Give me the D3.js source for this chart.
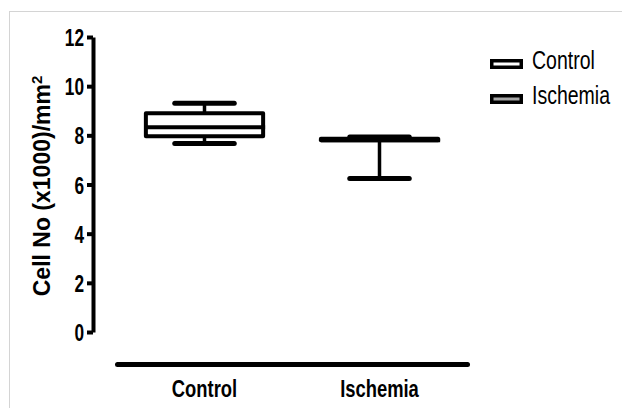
<!DOCTYPE html>
<html>
<head>
<meta charset="utf-8">
<script src="https://cdn.jsdelivr.net/npm/d3@7"></script>
<style>
  html, body { margin: 0; padding: 0; background: #fff; }
  svg { display: block; font-family: "Liberation Sans", Arial, sans-serif; }
</style>
</head>
<body>
<svg id="chart" width="622" height="408"></svg>
<script>
// data
let groups = ["Control", "Ischemia"]
let minVals = [7.67, 6.24]
let q1Vals = [7.96, 7.80]
let medianVals = [8.33, 7.80]
let q3Vals = [8.90, 7.86]
let maxVals = [9.31, 7.93]
let yTicks = [0, 2, 4, 6, 8, 10, 12]
let boxFills = ["#ffffff", "#a6a6a6"]

let svg = d3.select("#chart")

// light frame around the figure
svg.append("rect")
    .attr("x", 9.5).attr("y", 11.5)
    .attr("width", 640).attr("height", 420)
    .attr("fill", "none")
    .attr("stroke", "#d4d4d4")
    .attr("stroke-width", 1)

// scales
let yScale = d3.scaleLinear().domain([0, 12]).range([332, 37])
let xScale = d3.scaleBand().domain(groups).range([117, 467])
let boxW = xScale.bandwidth() * 0.67
let capW = xScale.bandwidth() * 0.34

// y axis
let yAxis = svg.append("g")
    .attr("transform", "translate(93,0)")
    .call(d3.axisLeft(yScale).tickValues(yTicks).tickSize(6).tickSizeOuter(0))
yAxis.select(".domain").attr("stroke", "#000").attr("stroke-width", 4)
yAxis.selectAll(".tick line").attr("stroke", "#000").attr("stroke-width", 4)
yAxis.selectAll(".tick text")
    .attr("x", null)
    .attr("dy", "0.36em")
    .attr("transform", "translate(-9,0) scale(0.72,1)")
    .attr("fill", "#000")
    .style("font-size", "24px")
    .style("font-weight", "bold")
    .style("font-family", "'Liberation Sans', Arial, sans-serif")

// y title
let yTitle = svg.append("text")
    .attr("transform", "translate(50,186) rotate(-90)")
    .attr("text-anchor", "middle")
    .style("font-size", "23px")
    .style("font-weight", "bold")
yTitle.append("tspan").text("Cell No (x1000)/mm")
yTitle.append("tspan").attr("dy", "-0.55em").style("font-size", "15px").text("2")

// x axis
let xAxis = svg.append("g")
    .attr("transform", "translate(0,364)")
    .call(d3.axisBottom(xScale).tickSize(0).tickSizeOuter(0).tickPadding(0))
xAxis.select(".domain")
    .attr("stroke", "#000")
    .attr("stroke-width", 5)
    .attr("stroke-linecap", "round")
xAxis.selectAll(".tick text")
    .attr("y", null).attr("dy", null)
    .attr("transform", "translate(0,33) scale(0.8,1)")
    .attr("fill", "#000")
    .style("font-size", "23px")
    .style("font-weight", "bold")
    .style("font-family", "'Liberation Sans', Arial, sans-serif")

// box plots
let boxes = svg.selectAll(".box")
    .data(groups)
    .enter()
    .append("g")
    .attr("class", "box")
    .attr("transform", function (d) {
        return "translate(" + (xScale(d) + xScale.bandwidth() / 2) + ",0)"
    })

// whiskers
boxes.append("line")
    .attr("x1", 0).attr("x2", 0)
    .attr("y1", function (d, i) { return yScale(q3Vals[i]) })
    .attr("y2", function (d, i) { return yScale(maxVals[i]) })
    .attr("stroke", "#000").attr("stroke-width", 3.5)
boxes.append("line")
    .attr("x1", 0).attr("x2", 0)
    .attr("y1", function (d, i) { return yScale(q1Vals[i]) })
    .attr("y2", function (d, i) { return yScale(minVals[i]) })
    .attr("stroke", "#000").attr("stroke-width", 3.5)

// box
boxes.append("rect")
    .attr("x", -boxW / 2)
    .attr("width", boxW)
    .attr("y", function (d, i) { return yScale(q3Vals[i]) })
    .attr("height", function (d, i) { return yScale(q1Vals[i]) - yScale(q3Vals[i]) })
    .attr("fill", "#fff")
    .attr("stroke", "#000")
    .attr("stroke-width", 4)
    .attr("stroke-linejoin", "round")

// median
boxes.append("line")
    .attr("x1", -boxW / 2).attr("x2", boxW / 2 + 2)
    .attr("y1", function (d, i) { return yScale(medianVals[i]) })
    .attr("y2", function (d, i) { return yScale(medianVals[i]) })
    .attr("stroke", "#000").attr("stroke-width", 4)

// caps
boxes.append("line")
    .attr("x1", -capW / 2).attr("x2", capW / 2)
    .attr("y1", function (d, i) { return yScale(maxVals[i]) })
    .attr("y2", function (d, i) { return yScale(maxVals[i]) })
    .attr("stroke", "#000").attr("stroke-width", 5).attr("stroke-linecap", "round")
boxes.append("line")
    .attr("x1", -capW / 2).attr("x2", capW / 2)
    .attr("y1", function (d, i) { return yScale(minVals[i]) })
    .attr("y2", function (d, i) { return yScale(minVals[i]) })
    .attr("stroke", "#000").attr("stroke-width", 5).attr("stroke-linecap", "round")

// legend
let legend = svg.selectAll(".legend")
    .data(groups)
    .enter()
    .append("g")
    .attr("class", "legend")
    .attr("transform", function (d, i) { return "translate(490," + (59 + i * 35) + ")" })
legend.append("rect")
    .attr("x", 1.75).attr("y", 1.75)
    .attr("width", 29.5).attr("height", 6.5)
    .attr("fill", function (d, i) { return boxFills[i] })
    .attr("stroke", "#000")
    .attr("stroke-width", 3.5)
legend.append("text")
    .attr("transform", "translate(42,10) scale(0.78,1)")
    .style("font-size", "25px")
    .attr("fill", "#000")
    .text(function (d) { return d })
</script>
</body>
</html>
